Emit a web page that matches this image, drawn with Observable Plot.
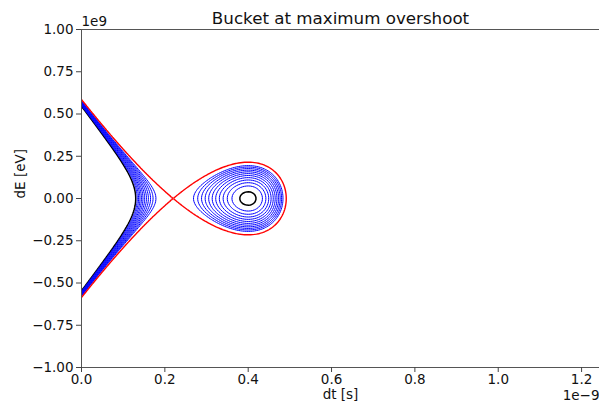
<!DOCTYPE html>
<html>
<head>
<meta charset="utf-8">
<script src="https://cdn.jsdelivr.net/npm/d3@7"></script>
<script src="https://cdn.jsdelivr.net/npm/@observablehq/plot@0.6"></script>
<style>
  html, body { margin: 0; padding: 0; background: #fff; overflow: hidden; }
  #chart svg { font-family: "DejaVu Sans", sans-serif; display: block; }
</style>
</head>
<body>
<div id="chart"></div>
<script>
// Axis extents (dt in seconds, dE in eV)
const dtRange = [0, 1.243e-9];
const dERange = [-1e9, 1e9];
const dtTicks = [0, 0.2e-9, 0.4e-9, 0.6e-9, 0.8e-9, 1.0e-9, 1.2e-9];
const dETicks = [-1e9, -0.75e9, -0.5e9, -0.25e9, 0, 0.25e9, 0.5e9, 0.75e9, 1e9];

// RF bucket: synchronous particle, unstable fixed point, bucket half-height
const synchronousDt = [0.4e-9];
const unstableDt = [0.22e-9];
const synchronousPhaseDeg = [68];
const bucketHalfHeight = [0.215e9];

// Contour levels of the Hamiltonian, normalised so the separatrix sits at 1
const trajectoryLevels = [0.12, 0.19, 0.26, 0.33, 0.40, 0.47, 0.54, 0.61, 0.68, 0.75, 0.82];
const separatrixLevel = [1];
const centreLevel = [0.035];

const phiS = synchronousPhaseDeg[0] * Math.PI / 180;
const sinS = Math.sin(phiS), cosS = Math.cos(phiS);
const omega = (Math.PI - 2 * phiS) / (synchronousDt[0] - unstableDt[0]);
const potential = (psi) => cosS - Math.cos(psi + phiS) - psi * sinS;
const potentialMax = potential(Math.PI - 2 * phiS);

// Longitudinal Hamiltonian in (dt, dE)
const hamiltonian = (dt, dE) => {
  const psi = omega * (synchronousDt[0] - dt);
  const e = dE / bucketHalfHeight[0];
  return e * e + potential(psi) / potentialMax;
};

const minus = (s) => s.replace("-", "\u2212");
// sample a little beyond the axes so contour rings never close along the frame
const pad = 0.05;
const field = {
  value: hamiltonian,
  x1: dtRange[0] - pad * (dtRange[1] - dtRange[0]),
  x2: dtRange[1] + pad * (dtRange[1] - dtRange[0]),
  y1: dERange[0] - pad * (dERange[1] - dERange[0]),
  y2: dERange[1] + pad * (dERange[1] - dERange[0]),
  fill: "none",
  clip: true
};

const label = { fontSize: 13.5, fill: "#111", lineAnchor: "middle" };

const chart = Plot.plot({
  width: 599,
  height: 403,
  marginLeft: 81,
  marginRight: 0,
  marginTop: 29,
  marginBottom: 36,
  style: { fontFamily: "DejaVu Sans", fontSize: "13.5px", color: "#111", background: "#fff" },
  x: { domain: dtRange },
  y: { domain: dERange },
  marks: [
    Plot.contour({ ...field, thresholds: centreLevel, stroke: "black", strokeWidth: 1.5 }),
    Plot.contour({ ...field, thresholds: trajectoryLevels, stroke: "blue", strokeWidth: 1 }),
    Plot.contour({ ...field, thresholds: separatrixLevel, stroke: "red", strokeWidth: 1.4 }),
    // spines
    Plot.ruleX([dtRange[0]], { stroke: "#555", strokeWidth: 1 }),
    Plot.ruleY([dERange[0], dERange[1]], { stroke: "#555", strokeWidth: 1 }),
    Plot.axisX({
      ticks: dtTicks, tickSize: 5, tickPadding: 2, fontSize: 13.5,
      tickFormat: (d) => (d * 1e9).toFixed(1), label: null, stroke: "#444"
    }),
    Plot.axisY({
      ticks: dETicks, tickSize: 5, tickPadding: 3, fontSize: 13.5,
      tickFormat: (d) => minus((d / 1e9).toFixed(2)), label: null, stroke: "#444"
    }),
    // title, axis labels and scale offsets
    Plot.text(["Bucket at maximum overshoot"], { ...label, frameAnchor: "top", dy: -11, fontSize: 16.7 }),
    Plot.text(["dt [s]"], { ...label, frameAnchor: "bottom", dy: 27.5 }),
    Plot.text(["1e\u22129"], { ...label, frameAnchor: "bottom-right", dy: 28, textAnchor: "end" }),
    Plot.text(["1e9"], { ...label, frameAnchor: "top-left", dy: -8, textAnchor: "start" }),
    Plot.text(["dE [eV]"], { ...label, frameAnchor: "left", dx: -61, rotate: -90 })
  ]
});
document.getElementById("chart").appendChild(chart);
</script>
</body>
</html>
